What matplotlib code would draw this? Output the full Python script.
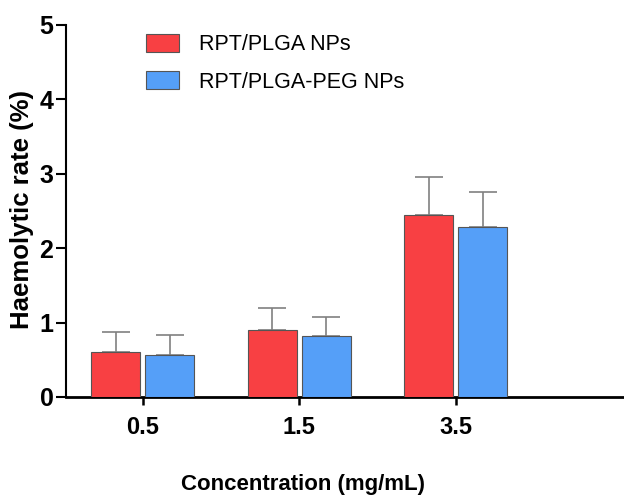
import matplotlib
matplotlib.use("Agg")
import matplotlib.pyplot as plt
import numpy as np

categories = ["0.5", "1.5", "3.5"]
series_names = ["RPT/PLGA NPs", "RPT/PLGA-PEG NPs"]
plga_vals = [0.61, 0.90, 2.45]
plga_err = [0.26, 0.30, 0.51]
peg_vals = [0.57, 0.82, 2.29]
peg_err = [0.27, 0.26, 0.46]
y_ticks = [0, 1, 2, 3, 4, 5]

plt.rcParams['font.family'] = ['Liberation Sans', 'DejaVu Sans']

fig = plt.figure(figsize=(6.24, 4.97), dpi=100)
ax = fig.add_axes([66/624, 100/497, (624-66)/624, (397-25)/497])

x = np.arange(len(categories))
w = 0.313
off = 0.172
red = '#F84043'
blue = '#559FF8'
edge = '#555555'

ax.bar(x - off, plga_vals, w, color=red, edgecolor=edge, linewidth=0.8, label=series_names[0], zorder=3)
ax.bar(x + off, peg_vals, w, color=blue, edgecolor=edge, linewidth=0.8, label=series_names[1], zorder=3)
ax.errorbar(x - off, plga_vals, yerr=[np.zeros(3), plga_err], fmt='none', ecolor='#808080',
            elinewidth=1.2, capsize=10, capthick=1.2, zorder=2)
ax.errorbar(x + off, peg_vals, yerr=[np.zeros(3), peg_err], fmt='none', ecolor='#808080',
            elinewidth=1.2, capsize=10, capthick=1.2, zorder=2)

ax.set_xlim(-0.49, 3.075)
ax.set_ylim(0, 5)
ax.set_yticks(y_ticks)
ax.set_yticklabels([str(t) for t in y_ticks], fontsize=18, fontweight='bold')
ax.set_xticks(x)
ax.set_xticklabels(categories, fontsize=17, fontweight='bold')
ax.tick_params(axis='y', length=7, width=1.5, pad=2)
ax.tick_params(axis='x', length=6, width=1.8, pad=8)

for s in ['top', 'right']:
    ax.spines[s].set_visible(False)
ax.spines['left'].set_linewidth(1.5)
ax.spines['bottom'].set_linewidth(2)

ax.set_ylabel("Haemolytic rate (%)", fontsize=18.5, fontweight='bold')
ax.yaxis.set_label_coords(-0.058, 0.505)
ax.set_xlabel("Concentration (mg/mL)", fontsize=16, fontweight='bold')
ax.xaxis.set_label_coords(0.424, -0.208)

leg = ax.legend(loc='upper left', bbox_to_anchor=(0.108, 1.028), frameon=False, fontsize=15.5,
                handlelength=1.55, handleheight=0.9, handletextpad=0.95, labelspacing=0.75)

fig.savefig("out.png", dpi=100)
